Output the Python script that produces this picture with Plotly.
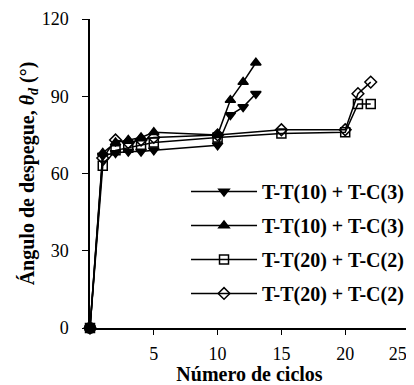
import plotly.graph_objects as go

cycles_a = [0, 1, 2, 3, 4, 5, 10, 11, 12, 13]
down_tri = [0, 67, 68, 68.5, 68.5, 69, 71, 82.7, 85.8, 91]
up_tri = [0, 68, 72, 73, 74, 76, 75, 88.5, 95.5, 103]

cycles_b = [0, 1, 2, 3, 4, 5, 10, 15, 20, 21, 22]
squares = [0, 63, 69, 70, 71, 72, 74, 75.5, 76, 87, 87]
diamonds = [0, 66, 73, 72, 73, 74, 75, 77, 77, 91, 95.5]

names = ["T-T(10) + T-C(3)", "T-T(10) + T-C(3)", "T-T(20) + T-C(2)", "T-T(20) + T-C(2)"]

x_tickvals = [5, 10, 15, 20, 25]
x_ticktext = ["5", "10", "15", "20", "25" + "\u00a0" * 5]
y_tickvals = [0, 30, 60, 90, 120]

font = "Liberation Serif, Times New Roman, serif"

fig = go.Figure()
series = [
    (cycles_a, down_tri, "triangle-down"),
    (cycles_a, up_tri, "triangle-up"),
    (cycles_b, squares, "square-open"),
    (cycles_b, diamonds, "diamond-open"),
]
for i, (xs, ys, sym) in enumerate(series):
    fig.add_trace(go.Scatter(
        x=xs, y=ys, mode="lines+markers", name=names[i],
        legendgroup=f"g{i}",
        line=dict(color="black", width=1.5),
        marker=dict(symbol=sym, size=9, color="black",
                    line=dict(color="black", width=1.5)),
        cliponaxis=False,
    ))
# common origin point of all series, drawn as a filled dot
fig.add_trace(go.Scatter(
    x=[cycles_a[0]], y=[down_tri[0]], mode="markers", showlegend=False,
    marker=dict(symbol="circle", size=12, color="black"), cliponaxis=False,
))

# the page body has an 8px margin, so the figure is sized to fit the window
fig.update_layout(
    width=406, height=377,
    margin=dict(l=82, r=5, t=11, b=57, autoexpand=False),
    paper_bgcolor="white", plot_bgcolor="white",
    font=dict(family=font, color="black", size=18),
    showlegend=True,
    legend=dict(x=0.301, y=0.505, xanchor="left", yanchor="top",
                bgcolor="rgba(255,255,255,1)",
                font=dict(family=font, size=20, color="black", weight="bold"),
                tracegroupgap=5, itemwidth=66),
    xaxis=dict(range=[0, 25], tickvals=x_tickvals, ticktext=x_ticktext,
               showline=True, linecolor="black", linewidth=1.5,
               ticks="outside", ticklen=5, tickcolor="black",
               showgrid=False, zeroline=False, automargin=False,
               ticklabeloverflow="allow", ticklabelstandoff=4,
               title=dict(text="<b>Número de ciclos</b>", font=dict(family=font, size=20), standoff=0),
               tickfont=dict(family=font, size=18)),
    yaxis=dict(range=[0, 120], tickvals=y_tickvals,
               showline=True, linecolor="black", linewidth=1.5,
               ticks="outside", ticklen=6, tickcolor="black",
               showgrid=False, zeroline=False, ticklabelstandoff=10, automargin=False,
               title=dict(text="<b>Ángulo de despegue, <i>θ<sub>d</sub></i> (°)</b>",
                          font=dict(family=font, size=20), standoff=2),
               tickfont=dict(family=font, size=18)),
)

fig.write_html("out.html")
